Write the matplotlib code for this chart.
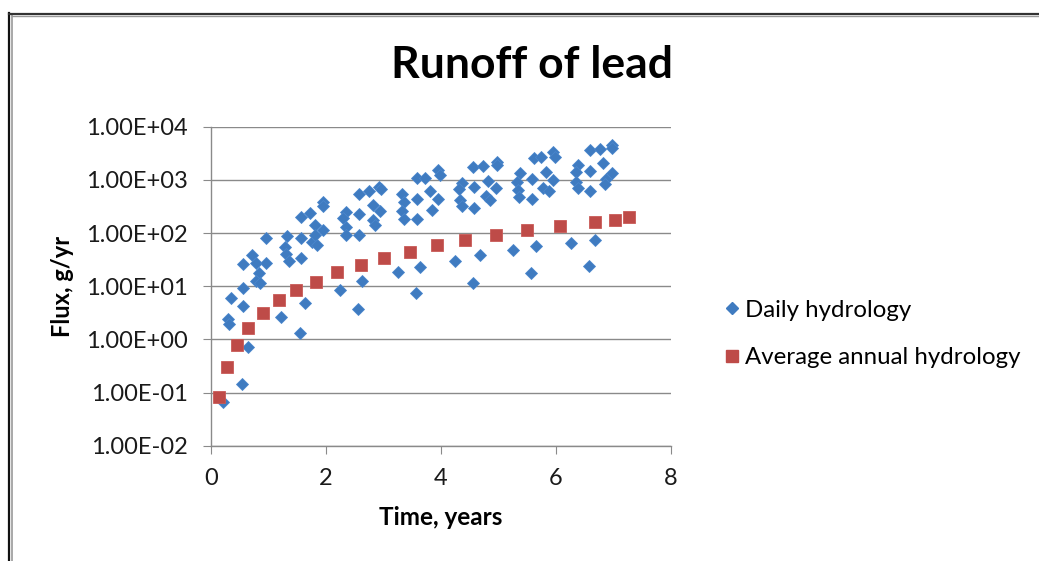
import matplotlib
matplotlib.use('agg')
import matplotlib.pyplot as plt
from matplotlib.lines import Line2D

# Daily hydrology (years, g/yr)
daily_t = [0.20, 0.54, 0.64, 0.29, 0.32, 0.35, 0.56, 0.56, 0.56, 0.72, 0.79, 0.84,
           0.79, 0.85, 0.95, 0.95, 1.21, 1.29, 1.33, 1.30, 1.35, 1.57, 1.57, 1.63,
           1.54, 1.56, 1.73, 1.81, 1.75, 1.84, 1.81, 1.94, 1.95, 1.95,
           2.24, 2.34, 2.30, 2.34, 2.34, 2.57, 2.57, 2.58, 2.74, 2.81, 2.94, 2.81,
           2.85, 2.93, 2.96, 2.63, 2.55, 3.25, 3.57, 3.63, 3.33, 3.36, 3.33, 3.36,
           3.58, 3.73, 3.58, 3.58, 3.81, 3.95, 3.85, 3.95, 3.98,
           4.24, 4.55, 4.67, 4.56, 4.73, 4.37, 4.32, 4.33, 4.36, 4.57, 4.57, 4.82,
           4.78, 4.85, 4.96, 4.97, 4.97, 5.25, 5.66, 5.56, 5.37, 5.33, 5.34, 5.36,
           5.61, 5.74, 5.59, 5.58, 5.83, 5.78, 5.87, 5.95, 5.95, 5.98,
           6.26, 6.68, 6.57, 6.38, 6.34, 6.34, 6.39, 6.59, 6.77, 6.98, 6.98, 6.59,
           6.59, 6.82, 6.87, 6.85, 6.97]
daily_flux = [0.066, 0.146, 0.73, 2.41, 1.97, 5.98, 4.29, 9.45, 26, 39.3, 27.1, 17.6,
              12.6, 11.7, 27.1, 79.8, 2.63, 55.6, 88, 40, 30.3, 80, 34.5, 4.94,
              1.30, 198, 241, 142, 69, 59.8, 92, 114, 388, 322,
              8.55, 252, 190, 128, 92, 542, 225, 92, 617, 337, 263, 176,
              142, 740, 680, 12.5, 3.72, 18.6, 7.42, 23.1, 542, 388, 260, 184,
              1067, 1094, 436, 182, 624, 431, 271, 1527, 1230,
              30.4, 11.7, 38.3, 1717, 1840, 860, 663, 418, 326, 723, 292, 962,
              497, 418, 693, 2187, 1900, 47.6, 56.5, 17.6, 1358, 920, 644, 482,
              2600, 2712, 1021, 431, 1419, 693, 624, 991, 3365, 2712,
              66, 75, 24.4, 1897, 1419, 920, 693, 3623, 3733, 4498, 3900, 1483,
              617, 2040, 1021, 834, 1324]

# Average annual hydrology
annual_t = [0.14, 0.27, 0.45, 0.65, 0.90, 1.19, 1.48, 1.83, 2.19, 2.60,
            3.01, 3.46, 3.93, 4.42, 4.96, 5.49, 6.07, 6.67, 7.03, 7.27]
annual_flux = [0.085, 0.31, 0.79, 1.68, 3.13, 5.4, 8.45, 12.2, 18.6, 25.5,
               34, 44.8, 59, 74, 92, 116, 134, 162, 178, 200]

y_ticks = [1e-2, 1e-1, 1e0, 1e1, 1e2, 1e3, 1e4]
y_labels = ['1.00E-02', '1.00E-01', '1.00E+00', '1.00E+01', '1.00E+02', '1.00E+03', '1.00E+04']
x_ticks = [0, 2, 4, 6, 8]

blue = '#3f7bc0'
red = '#be4b48'
grid_c = '#8a8a8a'
font = ['Lato', 'DejaVu Sans']

fig = plt.figure(figsize=(10.39, 5.61), dpi=100)
ax = fig.add_axes([0.2031, 0.205, 0.4427, 0.5695])

ax.plot(daily_t, daily_flux, linestyle='none', marker='D', markersize=6.3,
        color=blue, markeredgecolor='#4a86cc', markeredgewidth=0.6, label='Daily hydrology')
ax.plot(annual_t, annual_flux, linestyle='none', marker='s', markersize=8.6,
        color=red, markeredgecolor='#c95a57', markeredgewidth=0.6, label='Average annual hydrology')

ax.set_yscale('log')
ax.set_xlim(0, 8)
ax.set_ylim(1e-2, 1e4)
ax.set_yticks(y_ticks)
ax.set_yticklabels(y_labels)
ax.minorticks_off()
ax.set_xticks(x_ticks)

ax.grid(axis='y', color=grid_c, linewidth=1)
ax.set_axisbelow(True)
for s in ['top', 'right']:
    ax.spines[s].set_visible(False)
for s in ['left', 'bottom']:
    ax.spines[s].set_color(grid_c)
    ax.spines[s].set_linewidth(1)
ax.tick_params(axis='y', length=6, color=grid_c, pad=11, labelsize=17, labelcolor='#1a1a1a')
ax.tick_params(axis='x', length=6, color=grid_c, pad=10, labelsize=17, labelcolor='#1a1a1a')
for lab in ax.get_xticklabels() + ax.get_yticklabels():
    lab.set_family(font)

ax.set_xlabel('Time, years', fontsize=17.5, fontweight='bold', family=font, labelpad=12)
ax.set_ylabel('Flux, g/yr', fontsize=17, fontweight='bold', family=font, labelpad=8)

fig.text(0.512, 0.884, 'Runoff of lead', ha='center', va='center',
         fontsize=32, fontweight='bold', family=font)

handles = [Line2D([], [], linestyle='none', marker='D', markersize=6.3, color=blue),
           Line2D([], [], linestyle='none', marker='s', markersize=8.6, color=red)]
leg = fig.legend(handles, ['Daily hydrology', 'Average annual hydrology'],
                 loc='center left', bbox_to_anchor=(0.672, 0.405), frameon=False,
                 prop={'family': font, 'size': 17.3}, handletextpad=0.05,
                 handlelength=1.0, labelspacing=1.1)

# chart frame
fig.add_artist(Line2D([9 / 1039, 9 / 1039], [0, 1 - 13 / 561], transform=fig.transFigure,
                      color='#111111', linewidth=1.6))
fig.add_artist(Line2D([11.5 / 1039, 11.5 / 1039], [0, 1 - 15 / 561], transform=fig.transFigure,
                      color='#999999', linewidth=1.2))
fig.add_artist(Line2D([9 / 1039, 1], [1 - 13.5 / 561, 1 - 13.5 / 561], transform=fig.transFigure,
                      color='#333333', linewidth=1.6))
fig.add_artist(Line2D([11.5 / 1039, 1], [1 - 15.5 / 561, 1 - 15.5 / 561], transform=fig.transFigure,
                      color='#999999', linewidth=1.0))

fig.savefig('out.png', dpi=100)
